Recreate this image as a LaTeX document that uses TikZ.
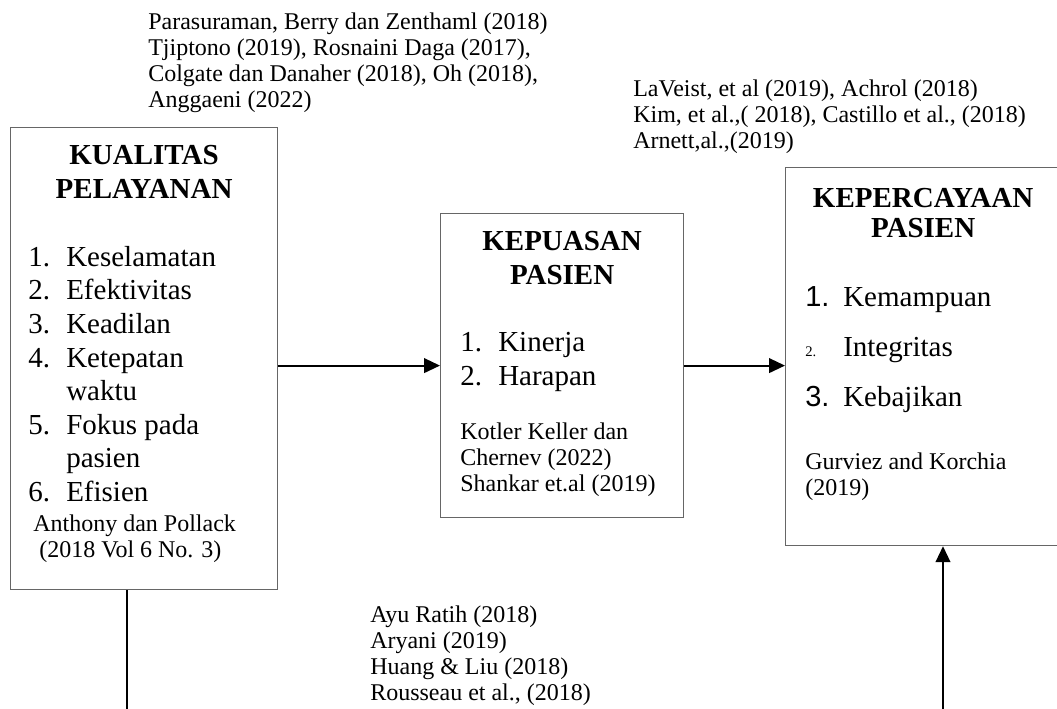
\documentclass[tikz,border=0pt]{standalone}
\usepackage{fontspec}
\setmainfont{Liberation Serif}
\newfontfamily\arialfont{Liberation Sans}
\usetikzlibrary{positioning, arrows.meta}

\newcommand{\nomor}[1]{\makebox[28.5pt][l]{#1}}
\newcommand{\lanjut}{\hspace*{28.5pt}}

\begin{document}
\begin{tikzpicture}[
        x=0.75pt, y=-0.75pt,
        kotak/.style={
            rectangle,
            draw=black!60,
            line width=0.9pt,
            anchor=north west,
            inner sep=0pt
        },
        judul/.style={
            align=center,
            inner sep=0pt,
            font=\bfseries\fontsize{21.75}{25.2}\selectfont
        },
        butir/.style={
            align=left,
            anchor=north west,
            inner sep=0pt,
            font=\fontsize{21.75}{25.2}\selectfont
        },
        rujukan/.style={
            align=left,
            anchor=north west,
            inner sep=0pt,
            font=\fontsize{18}{19.5}\selectfont
        },
        panah/.style={
            -{Triangle[length=12pt, width=11pt]},
            line width=1.5pt
        },
        garis/.style={
            line width=1.5pt
        }
    ]
        \useasboundingbox (0,0) rectangle (1057,709);

        % Kotak variabel
        \node[kotak, minimum width=200.25pt, minimum height=346.5pt] (kualitas) at (10,127) {};
        \node[kotak, minimum width=182.25pt, minimum height=228pt] (kepuasan) at (440,213) {};
        \node[kotak, minimum width=206.25pt, minimum height=283.5pt] (kepercayaan) at (785,167) {};

        % Judul
        \node[judul, below=13.9pt of kualitas.north] (judulkualitas) {KUALITAS\\PELAYANAN};
        \node[judul, below=13.9pt of kepuasan.north] (judulkepuasan) {KEPUASAN\\PASIEN};
        \node[judul, font=\bfseries\fontsize{21.75}{23}\selectfont, below=15.5pt of kepercayaan.north] (judulkepercayaan) {KEPERCAYAAN\\PASIEN};

        % Indikator
        \node[butir] (butirkualitas) at (28,246) {\nomor{1.}Keselamatan\\ \nomor{2.}Efektivitas\\ \nomor{3.}Keadilan\\ \nomor{4.}Ketepatan\\ \lanjut waktu\\ \nomor{5.}Fokus pada\\ \lanjut pasien\\ \nomor{6.}Efisien};
        \node[butir] (butirkepuasan) at (460,332) {\nomor{1.}Kinerja\\ \nomor{2.}Harapan};
        \node[butir, font=\fontsize{21.75}{37.5}\selectfont] (butirkepercayaan) at (805,286) {\nomor{\arialfont 1.}Kemampuan\\ \nomor{\fontsize{11}{11}\selectfont 2.}Integritas\\ \nomor{\arialfont 3.}Kebajikan};

        % Rujukan
        \node[rujukan] (rujukankualitas) at (33,515) {Anthony dan Pollack\\ \hspace*{0.25em}(2018 Vol 6 No. 3)};
        \node[rujukan] (rujukankepuasan) at (460,423) {Kotler Keller dan\\ Chernev (2022)\\ Shankar et.al (2019)};
        \node[rujukan] (rujukankepercayaan) at (805,453) {Gurviez and Korchia\\ (2019)};
        \node[rujukan] (rujukanatas) at (148,13) {Parasuraman, Berry dan Zenthaml (2018)\\ Tjiptono (2019), Rosnaini Daga (2017),\\ Colgate dan Danaher (2018), Oh (2018),\\ Anggaeni (2022)};
        \node[rujukan] (rujukankanan) at (633,80) {LaVeist, et al (2019), Achrol (2018)\\ Kim, et al.,( 2018), Castillo et al., (2018)\\ Arnett,al.,(2019)};
        \node[rujukan] (rujukanbawah) at (370,606) {Ayu Ratih (2018)\\ Aryani (2019)\\ Huang \& Liu (2018)\\ Rousseau et al., (2018)};

        % Ujung garis bawah
        \coordinate (bawahkiri) at (127,709);
        \coordinate (bawahkanan) at (943,709);

        % Panah
        \draw[panah] (kualitas.east |- kepuasan.west) -- (kepuasan.west);
        \draw[panah] (kepuasan.east) -- (kepuasan.east -| kepercayaan.west);
        \draw[garis] (bawahkiri |- kualitas.south) -- (bawahkiri);
        \draw[panah] (bawahkanan) -- (bawahkanan |- kepercayaan.south);
\end{tikzpicture}
\end{document}
